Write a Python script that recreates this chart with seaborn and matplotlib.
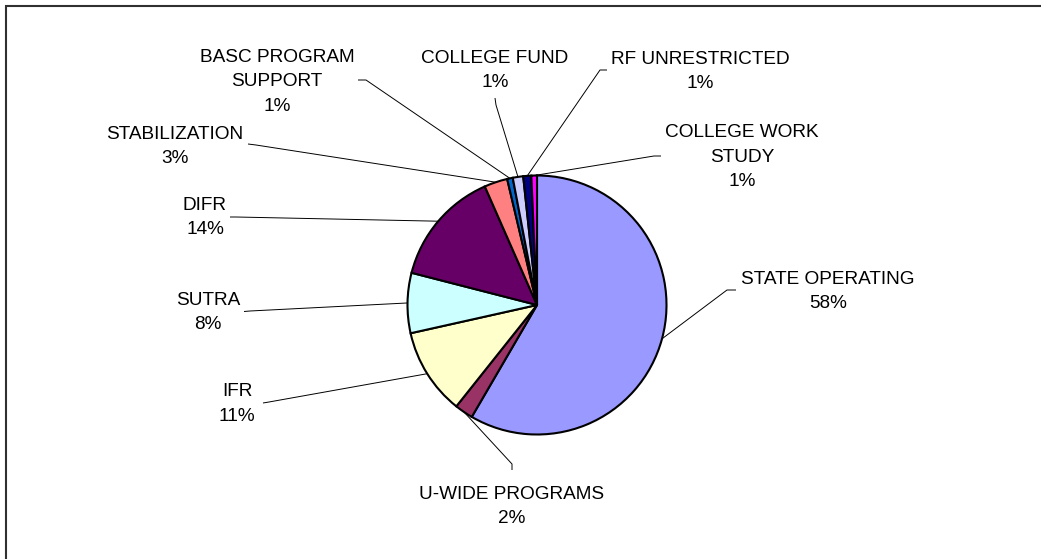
import matplotlib
matplotlib.use("Agg")
import matplotlib.pyplot as plt
from matplotlib.patches import Rectangle
import numpy as np
import seaborn as sns

# Budget sources, in display order (clockwise from 12 o'clock)
categories = ["STATE OPERATING", "U-WIDE PROGRAMS", "IFR", "SUTRA", "DIFR",
              "STABILIZATION", "BASC PROGRAM\nSUPPORT", "COLLEGE FUND",
              "RF UNRESTRICTED", "COLLEGE WORK\nSTUDY"]
shares = [58.4, 2.3, 10.8, 7.5, 14.4, 2.9, 0.7, 1.3, 1.0, 0.7]
colors = ["#9999FF", "#993366", "#FFFFCC", "#CCFFFF", "#660066",
          "#FF8080", "#0066CC", "#CCCCFF", "#000080", "#FF00FF"]

W, H = 1041, 559
CX, CY, R = 537, 305, 129.5

# label block centres and the short leader stub next to each label (pixels, from top-left)
label_pos = [(828, 291.5), (512, 506.5), (237, 404), (208, 312.5), (205, 217.5),
             (175, 146.5), (277, 82), (495, 70.5), (700, 71.5), (742, 157)]
leader_stub = [((736, 290), (727, 290)), ((512, 470), (512, 464)),
               ((263, 403), (269, 402)), ((244, 311.5), (250, 311)),
               ((230, 217), (236, 217)), ((248, 144), (256, 145)),
               ((358, 80), (366, 80)), ((495, 98), (496, 105)),
               ((607, 70), (600, 70)), ((661, 156), (654, 156))]

sns.set_theme(style="white")
plt.rcParams["font.family"] = ["Liberation Sans", "DejaVu Sans"]

fig = plt.figure(figsize=(W / 100, H / 100), dpi=100)
ax = fig.add_axes([0, 0, 1, 1])

wedges, _ = ax.pie(shares, colors=colors, startangle=90, counterclock=False,
                   center=(CX, H - CY), radius=R,
                   wedgeprops=dict(edgecolor="black", linewidth=1.5))
ax.set_xlim(0, W)
ax.set_ylim(0, H)
ax.set_aspect("equal")
ax.axis("off")

total = sum(shares)
for w, name, val, (tx, ty), (p0, p1) in zip(wedges, categories, shares,
                                             label_pos, leader_stub):
    mid = np.deg2rad((w.theta1 + w.theta2) / 2)
    end_x = CX + R * np.cos(mid)
    end_y = (H - CY) + R * np.sin(mid)
    ax.plot([p0[0], p1[0], end_x], [H - p0[1], H - p1[1], end_y],
            color="black", lw=0.7, solid_capstyle="butt")
    pct = int(val / total * 100 + 0.5)
    ax.text(tx, H - ty, f"{name}\n{pct}%", ha="center", va="center",
            fontsize=13.7, linespacing=1.6, color="black")

# chart-area frame (only top and left edges fall inside the image)
ax.add_patch(Rectangle((5.5, -50), 1200, H - 5.5 + 50, fill=False,
                       edgecolor="#303030", linewidth=1.5))

fig.savefig("out.png", dpi=100)
